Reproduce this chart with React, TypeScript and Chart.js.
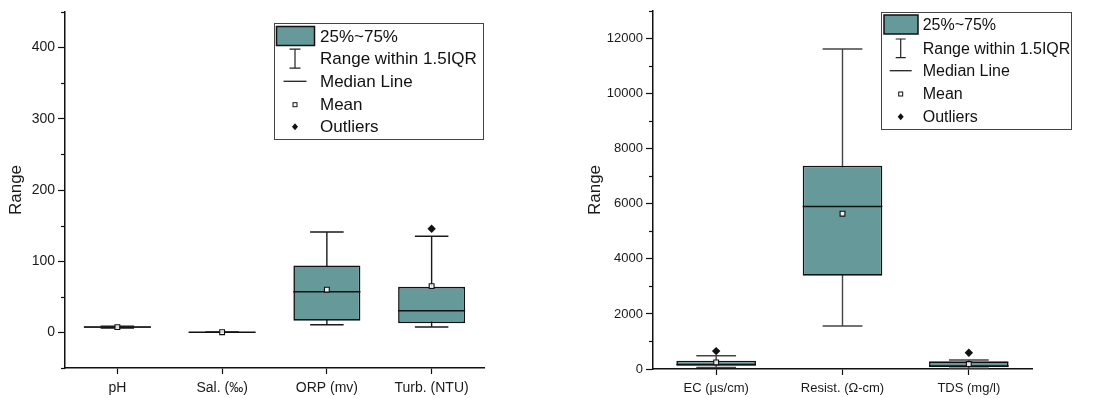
import React, { useEffect, useRef } from 'react';
import { Chart, registerables } from 'chart.js';

Chart.register(...registerables);

// ---------- data: left panel ----------
const leftCategories = ['pH', 'Sal. (‰)', 'ORP (mv)', 'Turb. (NTU)'];
const leftQ1 = [6.7, 0.1, 16.5, 13];
const leftQ3 = [8.2, 0.4, 94, 64];
const leftMedian = [7.5, 0.2, 57, 30.5];
const leftMean = [7.4, 0.25, 60, 65];
const leftWhiskerLow = [6.2, 0.0, 10.8, 7.5];
const leftWhiskerHigh = [8.8, 0.5, 141, 135];
const leftOutliers = [null, null, null, 145.5];
const leftYTicks = [0, 100, 200, 300, 400];
const leftYMinorTicks = [-50, 50, 150, 250, 350, 450];

// ---------- data: right panel ----------
const rightCategories = ['EC (µs/cm)', 'Resist. (Ω-cm)', 'TDS (mg/l)'];
const rightQ1 = [120, 3390, 65];
const rightQ3 = [300, 7380, 280];
const rightMedian = [160, 5900, 110];
const rightMean = [240, 5640, 180];
const rightWhiskerLow = [60, 1560, 30];
const rightWhiskerHigh = [480, 11620, 325];
const rightOutliers = [650, null, 590];
const rightYTicks = [0, 2000, 4000, 6000, 8000, 10000, 12000];
const rightYMinorTicks = [1000, 3000, 5000, 7000, 9000, 11000, 13000];

const legendLabels = ['25%~75%', 'Range within 1.5IQR', 'Median Line', 'Mean', 'Outliers'];
const yTitle = 'Range';

const TEAL = '#669a9a';
const FONT = "Arial, 'Liberation Sans', sans-serif";

const boxPlugin = {
  id: 'boxExtras',
  beforeDatasetsDraw(chart: any, _args: any, opts: any) {
    const meta = chart.getDatasetMeta(0);
    const y = chart.scales.y;
    const ctx = chart.ctx;
    ctx.save();
    ctx.strokeStyle = opts.whiskerColor;
    ctx.lineWidth = 1.4;
    meta.data.forEach((bar: any, i: number) => {
      const x = bar.x;
      const w = bar.width;
      const yl = y.getPixelForValue(opts.low[i]);
      const yh = y.getPixelForValue(opts.high[i]);
      ctx.beginPath();
      ctx.moveTo(x, yl);
      ctx.lineTo(x, yh);
      ctx.moveTo(x - w / 4, yl);
      ctx.lineTo(x + w / 4, yl);
      ctx.moveTo(x - w / 4, yh);
      ctx.lineTo(x + w / 4, yh);
      ctx.stroke();
    });
    ctx.restore();
  },
  afterDatasetDraw(chart: any, args: any, opts: any) {
    if (args.index !== 0) return;
    const meta = chart.getDatasetMeta(0);
    const y = chart.scales.y;
    const ctx = chart.ctx;
    ctx.save();
    ctx.strokeStyle = '#111';
    ctx.lineWidth = 1.5;
    meta.data.forEach((bar: any, i: number) => {
      const ym = y.getPixelForValue(opts.median[i]);
      ctx.beginPath();
      ctx.moveTo(bar.x - bar.width / 2, ym);
      ctx.lineTo(bar.x + bar.width / 2, ym);
      ctx.stroke();
    });
    ctx.restore();
  },
  afterDraw(chart: any, _args: any, opts: any) {
    const ctx = chart.ctx;
    const y = chart.scales.y;
    const left = chart.chartArea.left;
    ctx.save();
    // minor ticks
    ctx.strokeStyle = '#111';
    ctx.lineWidth = 1.2;
    opts.minor.forEach((v: number) => {
      const py = Math.round(y.getPixelForValue(v)) + 0.5;
      ctx.beginPath();
      ctx.moveTo(left - 4, py);
      ctx.lineTo(left, py);
      ctx.stroke();
    });
    // legend
    const L = opts.legend;
    ctx.lineWidth = 1;
    ctx.strokeStyle = '#444';
    ctx.strokeRect(L.x + 0.5, L.y + 0.5, L.w, L.h);
    // patch
    ctx.fillStyle = TEAL;
    ctx.fillRect(L.px, L.py, L.pw, L.ph);
    ctx.lineWidth = 1.5;
    ctx.strokeStyle = '#111';
    ctx.strokeRect(L.px, L.py, L.pw, L.ph);
    // I-beam
    const r = L.rows;
    ctx.lineWidth = 1.2;
    ctx.strokeStyle = '#222';
    ctx.beginPath();
    ctx.moveTo(L.sx, r[1] - L.ih);
    ctx.lineTo(L.sx, r[1] + L.ih);
    ctx.moveTo(L.sx - L.cap, r[1] - L.ih);
    ctx.lineTo(L.sx + L.cap, r[1] - L.ih);
    ctx.moveTo(L.sx - L.cap, r[1] + L.ih);
    ctx.lineTo(L.sx + L.cap, r[1] + L.ih);
    ctx.stroke();
    // median line
    ctx.beginPath();
    ctx.lineWidth = 1.3;
    ctx.moveTo(L.sx - L.lh, r[2]);
    ctx.lineTo(L.sx + L.lh, r[2]);
    ctx.stroke();
    // mean square
    ctx.fillStyle = '#fff';
    ctx.fillRect(L.sx - 2, r[3] - 2, 4, 4);
    ctx.lineWidth = 1;
    ctx.strokeStyle = '#111';
    ctx.strokeRect(L.sx - 2, r[3] - 2, 4, 4);
    // diamond
    ctx.fillStyle = '#111';
    ctx.beginPath();
    ctx.moveTo(L.sx, r[4] - 3.5);
    ctx.lineTo(L.sx + 3, r[4]);
    ctx.lineTo(L.sx, r[4] + 3.5);
    ctx.lineTo(L.sx - 3, r[4]);
    ctx.closePath();
    ctx.fill();
    // texts
    ctx.fillStyle = '#111';
    ctx.font = `${L.font}px ${FONT}`;
    ctx.textBaseline = 'middle';
    ctx.textAlign = 'left';
    legendLabels.forEach((t, i) => ctx.fillText(t, L.tx, r[i] + 1));
    ctx.restore();
  },
};

function buildConfig(p: any) {
  return {
    type: 'bar',
    data: {
      labels: p.categories,
      datasets: [
        {
          type: 'bar',
          data: p.q1.map((v: number, i: number) => [v, p.q3[i]]),
          backgroundColor: TEAL,
          borderColor: '#111',
          borderWidth: 1.6,
          borderSkipped: false,
          categoryPercentage: 1,
          barPercentage: p.barPct,
          order: 3,
        },
        {
          type: 'line',
          data: p.mean,
          showLine: false,
          pointStyle: 'rect',
          pointRadius: 3.4,
          pointBackgroundColor: 'rgba(255,255,255,0.85)',
          pointBorderColor: '#111',
          pointBorderWidth: 1.1,
          order: 2,
        },
        {
          type: 'line',
          data: p.outliers,
          showLine: false,
          pointStyle: 'rectRot',
          pointRadius: 4.2,
          pointBackgroundColor: '#111',
          pointBorderColor: '#111',
          pointBorderWidth: 0,
          order: 1,
        },
      ],
    },
    options: {
      responsive: false,
      animation: false,
      events: [],
      layout: { padding: p.padding },
      plugins: {
        legend: { display: false },
        tooltip: { enabled: false },
        boxExtras: {
          low: p.low,
          high: p.high,
          median: p.median,
          minor: p.minor,
          legend: p.legend,
          whiskerColor: p.whiskerColor,
        },
      },
      scales: {
        x: {
          type: 'category',
          offset: true,
          grid: {
            display: true,
            drawOnChartArea: false,
            drawTicks: true,
            tickLength: 6,
            offset: false,
            tickColor: '#111',
            tickWidth: 1.2,
          },
          border: { display: true, color: '#111', width: 1.5 },
          ticks: { color: '#1a1a1a', font: { family: FONT, size: p.xFont }, padding: 6, maxRotation: 0, autoSkip: false },
          afterFit: (s: any) => { s.height = p.xHeight; },
        },
        y: {
          type: 'linear',
          min: p.min,
          max: p.max,
          afterBuildTicks: (s: any) => { s.ticks = p.ticks.map((v: number) => ({ value: v })); },
          grid: {
            display: true,
            drawOnChartArea: false,
            drawTicks: true,
            tickLength: 7,
            tickColor: '#111',
            tickWidth: 1.2,
          },
          border: { display: true, color: '#111', width: 1.5 },
          ticks: {
            color: '#1a1a1a',
            font: { family: FONT, size: p.yFont },
            padding: 3,
            callback: (v: any) => String(v),
          },
          title: {
            display: true,
            text: yTitle,
            color: '#1a1a1a',
            font: { family: FONT, size: 17 },
            padding: { top: p.titlePad, bottom: 0 },
          },
          afterFit: (s: any) => { s.width = p.yWidth; },
        },
      },
    },
    plugins: [boxPlugin],
  };
}

const leftParams = {
  categories: leftCategories, q1: leftQ1, q3: leftQ3, median: leftMedian, mean: leftMean,
  low: leftWhiskerLow, high: leftWhiskerHigh, outliers: leftOutliers,
  ticks: leftYTicks, minor: leftYMinorTicks, min: -50, max: 450,
  barPct: 0.64, xFont: 14, yFont: 14, whiskerColor: '#1a1a1a',
  padding: { left: 0, top: 12, right: 65, bottom: 0 }, yWidth: 65, xHeight: 30, titlePad: 6,
  legend: {
    x: 274, y: 23, w: 209, h: 116, px: 276.5, py: 26.5, pw: 38, ph: 19,
    sx: 295, tx: 320, rows: [36, 58.7, 81.3, 104.7, 126.7], font: 17,
    ih: 9.5, cap: 5.5, lh: 11.5,
  },
};

const rightParams = {
  categories: rightCategories, q1: rightQ1, q3: rightQ3, median: rightMedian, mean: rightMean,
  low: rightWhiskerLow, high: rightWhiskerHigh, outliers: rightOutliers,
  ticks: rightYTicks, minor: rightYMinorTicks, min: 0, max: 13000,
  barPct: 0.63, xFont: 13, yFont: 13, whiskerColor: '#444',
  padding: { left: 30, top: 11, right: 65, bottom: 0 }, yWidth: 74, xHeight: 29, titlePad: 6,
  legend: {
    x: 332, y: 12, w: 190, h: 117, px: 335, py: 15, pw: 34, ph: 19,
    sx: 351.7, tx: 373.7, rows: [25, 48.3, 70.7, 94, 116.7], font: 16,
    ih: 9.3, cap: 5, lh: 11,
  },
};

function Panel({ params, width, left }: { params: any; width: number; left: number }) {
  const ref = useRef<HTMLCanvasElement | null>(null);
  useEffect(() => {
    if (!ref.current) return;
    const chart = new Chart(ref.current, buildConfig(params) as any);
    return () => chart.destroy();
  }, [params]);
  return (
    <canvas
      ref={ref}
      width={width}
      height={398}
      style={{ position: 'absolute', left, top: 0, width, height: 398 }}
    />
  );
}

export default function App() {
  return (
    <div style={{ position: 'absolute', left: 0, top: 0, width: 1097, height: 398, background: '#fff' }}>
      <Panel params={leftParams} width={549} left={0} />
      <Panel params={rightParams} width={548} left={549} />
    </div>
  );
}
